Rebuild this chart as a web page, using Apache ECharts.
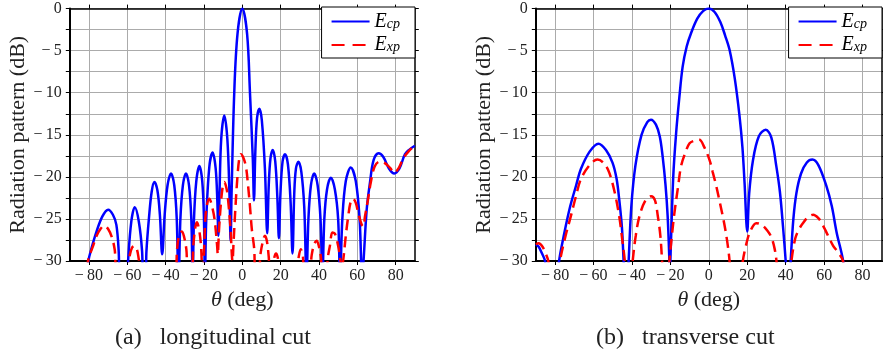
<!DOCTYPE html>
<html>
<head>
<meta charset="utf-8">
<script src="https://cdn.jsdelivr.net/npm/echarts@6/dist/echarts.min.js"></script>
<style>
html,body{margin:0;padding:0;background:#fff;}
#c{width:883px;height:355px;}
</style>
</head>
<body>
<div id="c"></div>
<script>
// ---------- data (theta in deg, pattern in dB) ----------
const xTickValues = [-80, -60, -40, -20, 0, 20, 40, 60, 80];
const yTickValues = [-30, -25, -20, -15, -10, -5, 0];
const seriesNames = ['Ecp', 'Exp'];

// (a) longitudinal cut
const leftCp = [
  [-81.5,-33],[-80.3,-30],[-78.8,-28.6],[-76.2,-26.6],[-73,-24.7],[-70,-23.9],[-67.5,-24.5],[-65.7,-25.7],[-64.5,-28.8],[-63.8,-33],
  [-60.2,-33],[-59.6,-30],[-57.9,-25.3],[-56.1,-23.6],[-54,-25.3],[-52.3,-28.8],[-51.6,-33],
  [-50.6,-33],[-50,-28.8],[-48.7,-24.9],[-47.3,-21.8],[-45.9,-20.6],[-44.3,-21.6],[-43,-24.5],[-41.8,-29.2],
  [-40.5,-24.5],[-39,-21],[-37.2,-19.6],[-35.5,-21],[-34.2,-25],[-33.3,-33],
  [-32.3,-25],[-31,-21],[-29.4,-19.6],[-27.8,-21],[-26.6,-25],[-25.9,-32],
  [-25.2,-25],[-24,-20.5],[-22.4,-18.7],[-20.9,-20.5],[-20,-25],[-19.5,-32],
  [-18.8,-25],[-17.2,-18.8],[-15.5,-17.1],[-13.9,-19],[-13,-23],[-12.5,-27],
  [-11.9,-22],[-11,-15.5],[-9.4,-12.7],[-7.8,-15.5],[-6.7,-22],[-6.1,-27.6],
  [-5.6,-22],[-4.2,-10],[-2.5,-3],[0,0],[2.5,-3],[4,-10],[5.5,-18],[6.1,-22.8],
  [6.8,-17],[7.7,-13],[8.9,-11.9],[10.2,-13.3],[11.8,-19],[13,-26.7],
  [13.8,-21],[14.7,-17.8],[15.9,-16.8],[17.2,-18.2],[18.3,-22.5],[19.1,-27.3],
  [19.9,-22],[21,-18.2],[22.3,-17.3],[23.8,-18.5],[25.2,-23],[26.2,-29.1],
  [27.1,-22],[28,-19],[29.3,-18.2],[30.8,-19.4],[32.3,-23.5],[33.5,-32],
  [34.5,-25],[35.8,-21],[37.5,-19.6],[39.3,-21],[40.8,-25],[41.8,-32],
  [42.8,-25],[44.2,-21.5],[46.2,-20.1],[48.3,-21.5],[50,-25],[51,-32],
  [52.2,-25],[54,-20.5],[56.6,-18.9],[59.2,-20.5],[61.2,-25],[62.5,-32],
  [63.3,-29.8],[64.9,-23.9],[66.6,-20.7],[68.5,-18],[71.1,-17.2],[73.5,-17.6],[76.5,-19],[79.3,-19.6],
  [82,-19],[84.9,-17.3],[87.5,-16.7],[90,-16.3]
];
const leftXp = [
  [-81.5,-33],[-80.5,-30],[-78,-28.3],[-76,-27],[-74,-26.2],[-72,-25.8],[-70,-26.2],[-68,-27.2],[-66.6,-28.6],[-65.3,-31],
  [-60,-31],[-58.7,-29.3],[-57.5,-28.4],[-56.3,-28.2],[-55,-28.6],[-54,-29.8],[-53.2,-31],
  [-35.2,-32],[-34,-28.5],[-33,-27],[-31.5,-26.5],[-30.3,-27.2],[-29.2,-28.6],[-28.3,-31],
  [-26.5,-31],[-25.5,-28],[-24.5,-26],[-23.7,-25.4],[-22.6,-26.2],[-21.6,-28],[-20.8,-31],
  [-20.2,-30],[-19.3,-25],[-18.3,-23.2],[-17.2,-22.6],[-16,-23.3],[-14.5,-25],[-13.2,-28],[-12.8,-29.2],
  [-12.2,-26.5],[-11.3,-23.5],[-10.3,-21.3],[-9.4,-20.6],[-8.2,-21.4],[-7.3,-23],[-6.2,-26],[-5.1,-30],
  [-4.6,-28],[-3.8,-24.5],[-2.7,-20.5],[-1.7,-18],[-0.8,-17.3],[0.5,-17.7],[1.9,-18.8],[3,-21],[4,-23.5],[5,-26.3],[6.2,-28.5],[6.9,-31],
  [8.5,-31],[9.6,-29],[10.6,-27.8],[11.8,-27],[12.8,-27.6],[13.8,-29.5],[14.3,-31],
  [15.8,-31],[16.8,-29.5],[17.6,-29.1],[18.5,-29.6],[19.2,-31],
  [28.5,-31],[29.3,-29.7],[30.5,-28.6],[31.5,-29.2],[32.3,-31],
  [35,-31.5],[36.2,-29.3],[37.5,-28],[38.8,-27.6],[40,-28.3],[41,-29.5],[41.8,-31],
  [43.8,-31],[44.6,-29.6],[45.7,-28.2],[47,-26.6],[48.4,-26.8],[50,-28.2],[51,-29.6],[51.8,-31],
  [52.7,-29.8],[54,-27],[55.2,-24.8],[56.5,-23],[57.8,-22.6],[59.2,-23.1],[60.5,-24.3],[62.3,-25.7],[63.2,-25.9],
  [64,-24.7],[65.5,-22.8],[67,-20.7],[69,-18.8],[71.5,-18.2],[74,-18.3],[77,-18.9],[79.3,-19.5],
  [81.5,-19],[84,-17.8],[87,-16.9],[90,-16.3]
];

// (b) transverse cut
const rightCp = [
  [-90,-28],[-88.5,-28.3],[-87,-29],[-85.2,-30],[-84.5,-32],
  [-78.5,-32],[-77.9,-30],[-75,-26.5],[-72.1,-23.5],[-69,-21],[-66.6,-19.1],[-62,-17],[-57.4,-16.05],[-53.5,-16.8],[-50.1,-18.3],[-48,-20.2],[-46.6,-22.7],[-45.2,-26],[-44.3,-30],[-43.8,-32],
  [-42.2,-32],[-41.7,-30],[-40.3,-23.5],[-38.2,-18.7],[-35,-15],[-32,-13.5],[-30.1,-13.2],[-27.5,-13.8],[-25.5,-15.2],[-24,-17.6],[-22.5,-21],[-21.4,-24.7],[-20.5,-30],[-20.3,-32],
  [-20,-30],[-18.5,-20],[-17,-14.8],[-15.3,-10.5],[-13.6,-6.9],[-11.5,-4.5],[-9.2,-2.9],[-6,-1.2],[-3,-0.3],[0,0],
  [3,-0.4],[6,-1.6],[8.5,-3.2],[10.8,-4.9],[13.5,-8.3],[16,-12.8],[17.5,-16.5],[18.6,-20.7],[20,-26.5],
  [21,-22],[23,-18],[26,-15.2],[29.6,-14.4],[32.5,-15.3],[35.1,-18.7],[37,-21.8],[38.6,-25.9],[40,-30],[40.5,-32],
  [42.2,-32],[42.6,-30],[44,-25],[45.6,-21.9],[48,-19.6],[51,-18.3],[53.9,-17.95],[57,-18.6],[61.2,-21.1],[64,-23.5],[66.5,-26.6],[69.9,-30],[70.5,-32]
];
const rightXp = [
  [-90,-28],[-88.5,-27.9],[-86.5,-28.3],[-84.7,-29.2],[-83.5,-30],[-83,-31.5],
  [-78,-32],[-77.4,-30],[-74.5,-27],[-71.8,-24.7],[-69,-22.2],[-66.6,-20.3],[-62,-18.6],[-57.9,-17.95],[-54.5,-18.4],[-51.8,-19.5],[-49,-21.8],[-46.6,-24.7],[-45,-27.5],[-43.7,-30],[-43.2,-32],
  [-40.2,-32],[-39.6,-30],[-38,-27],[-36.1,-24.7],[-33,-22.8],[-30,-22.3],[-28,-22.8],[-26.5,-24.7],[-25.2,-27],[-24.3,-30],[-23.8,-32],
  [-21,-32],[-20.5,-30],[-19.2,-27],[-17.9,-24.3],[-16,-21.2],[-14.4,-18.7],[-12,-17],[-10,-16],[-7.5,-15.7],[-4.9,-15.6],[-2.5,-16.4],[0.4,-18],[2,-19.4],[3.9,-21.1],[5.5,-22.8],[7.3,-24.7],[8.7,-26.4],[9.9,-28.2],[10.8,-30],[11.3,-32],
  [17,-32],[17.7,-30],[19.5,-28],[21.5,-26.5],[24.7,-25.5],[27.5,-25.7],[30.5,-26.4],[32.6,-27.2],[34.2,-28.5],[35.2,-30],[35.7,-32],
  [42.5,-32],[43,-30],[45,-27.3],[47,-26.2],[49,-25.5],[51.5,-24.8],[54.3,-24.5],[57,-24.9],[59,-25.6],[61.2,-26.6],[64.7,-28.2],[67,-28.9],[69.8,-30],[70.3,-32]
];

// ---------- chart ----------
const FONT = 'Liberation Serif';
const GRID_COLOR = '#ababab';
const fmtNum = v => (v < 0 ? '\u2212\u2009' + Math.abs(v) : String(v));

function bottomX(gridIndex) {
  return {
    type: 'value', gridIndex, position: 'bottom', min: -90, max: 90, interval: 10,
    axisLine: { show: true, onZero: false, lineStyle: { color: '#000', width: 2 } },
    axisTick: { show: true, inside: false, length: 4, customValues: xTickValues, lineStyle: { color: '#000', width: 1 } },
    axisLabel: { show: true, customValues: xTickValues, formatter: fmtNum, margin: 7,
                 fontFamily: FONT, fontSize: 16, color: '#222' },
    splitLine: { show: true, lineStyle: { color: GRID_COLOR, width: 1 } },
    name: '{i|\u03b8} (deg)', nameLocation: 'middle', nameGap: 26,
    nameTextStyle: { fontFamily: FONT, fontSize: 22, color: '#222',
      rich: { i: { fontFamily: FONT, fontStyle: 'italic', fontSize: 22, color: '#222' } } }
  };
}
function topX(gridIndex) {
  return {
    type: 'value', gridIndex, position: 'top', min: -90, max: 90, interval: 10,
    axisLine: { show: true, onZero: false, lineStyle: { color: '#000', width: 1.5 } },
    axisTick: { show: true, inside: false, length: 4, customValues: xTickValues, lineStyle: { color: '#000', width: 1 } },
    axisLabel: { show: false }, splitLine: { show: false }
  };
}
function leftY(gridIndex) {
  return {
    type: 'value', gridIndex, position: 'left', min: -30, max: 0, interval: 2.5,
    axisLine: { show: true, onZero: false, lineStyle: { color: '#000', width: 2 } },
    axisTick: { show: true, inside: false, length: 4, lineStyle: { color: '#000', width: 1 } },
    axisLabel: { show: true, customValues: yTickValues, formatter: fmtNum, margin: 8,
                 fontFamily: FONT, fontSize: 16, color: '#222' },
    splitLine: { show: true, lineStyle: { color: GRID_COLOR, width: 1 } },
    name: 'Radiation pattern (dB)', nameLocation: 'middle', nameGap: 40,
    nameTextStyle: { fontFamily: FONT, fontSize: 22, color: '#222' }
  };
}
function rightY(gridIndex) {
  return {
    type: 'value', gridIndex, position: 'right', min: -30, max: 0, interval: 2.5,
    axisLine: { show: true, onZero: false, lineStyle: { color: '#000', width: 1.5 } },
    axisTick: { show: true, inside: false, length: 4, lineStyle: { color: '#000', width: 1 } },
    axisLabel: { show: false }, splitLine: { show: false }
  };
}

function lineSeries(name, data, xi, yi) {
  const isCp = name === 'Ecp';
  return {
    type: 'line', name, data, xAxisIndex: xi, yAxisIndex: yi,
    symbol: 'none', smooth: 0.35, clip: true, animation: false,
    lineStyle: isCp ? { color: '#0000ff', width: 2.5 }
                    : { color: '#ff0000', width: 2.5, type: [11, 6] },
    itemStyle: { color: isCp ? '#0000ff' : '#ff0000' },
    z: isCp ? 2 : 3
  };
}

function legend(right) {
  return {
    data: ['Ecp', { name: 'Exp', lineStyle: { type: [13, 8] } }],
    orient: 'vertical', right, top: 7, itemWidth: 38, itemHeight: 12, itemGap: 2,
    padding: [3, 15, 3, 9], borderColor: '#000', borderWidth: 1, borderRadius: 0, backgroundColor: '#fff',
    selectedMode: false,
    itemStyle: { opacity: 0, borderWidth: 0 },
    formatter: n => n === 'Ecp' ? '{e|E}{s|cp}' : '{e|E}{s|xp}',
    textStyle: { fontFamily: FONT, color: '#000',
      rich: {
        e: { fontFamily: FONT, fontStyle: 'italic', fontSize: 20, lineHeight: 19, color: '#000' },
        s: { fontFamily: FONT, fontStyle: 'italic', fontSize: 14, lineHeight: 19, verticalAlign: 'bottom', padding: [7, 0, 0, 0], color: '#000' }
      } }
  };
}

const chart = echarts.init(document.getElementById('c'), null, { renderer: 'canvas' });
chart.setOption({
  animation: false,
  backgroundColor: '#fff',
  grid: [
    { left: 69.8, right: 468.2, top: 8.6, bottom: 94 },
    { left: 535.8, right: 1.2, top: 8.6, bottom: 94 }
  ],
  xAxis: [bottomX(0), topX(0), bottomX(1), topX(1)],
  yAxis: [leftY(0), rightY(0), leftY(1), rightY(1)],
  legend: [legend(468), legend(1)],
  series: [
    lineSeries('Ecp', leftCp, 0, 0),
    lineSeries('Exp', leftXp, 0, 0),
    lineSeries('Ecp', rightCp, 2, 2),
    lineSeries('Exp', rightXp, 2, 2)
  ],
  graphic: [
    { type: 'text', left: 115, top: 326, style: { text: '(a)   longitudinal cut', font: '24px "Liberation Serif"', fill: '#222' } },
    { type: 'text', left: 596, top: 326, style: { text: '(b)   transverse cut', font: '24px "Liberation Serif"', fill: '#222' } }
  ]
});
</script>
</body>
</html>
